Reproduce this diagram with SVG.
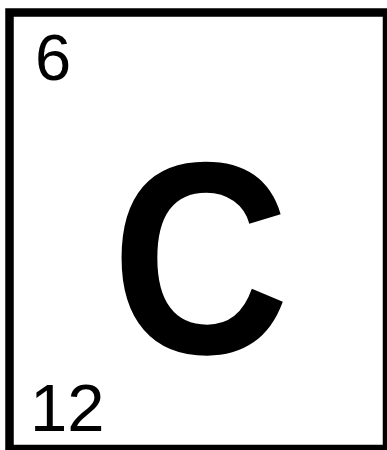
<svg xmlns="http://www.w3.org/2000/svg" width="387" height="450" viewBox="0 0 387 450">
<style>
.t{font-family:"Liberation Sans",Arial,sans-serif;fill:#000}
</style>
<rect width="387" height="450" fill="#fff"/>
<g id="tile">
<rect x="9.5" y="12.5" width="377.5" height="436.5" fill="#fff" stroke="#000" stroke-width="8.5"/>
</g>
<g id="number"><text class="t" x="35" y="80" font-size="65">6</text></g>
<g id="symbol"><text class="t" transform="translate(200.5 353) scale(0.9 1)" x="0" y="0" font-size="274" font-weight="bold" text-anchor="middle">C</text></g>
<g id="mass"><text class="t" x="30" y="431" font-size="67">12</text></g>
<g id="connectors"/>
</svg>
